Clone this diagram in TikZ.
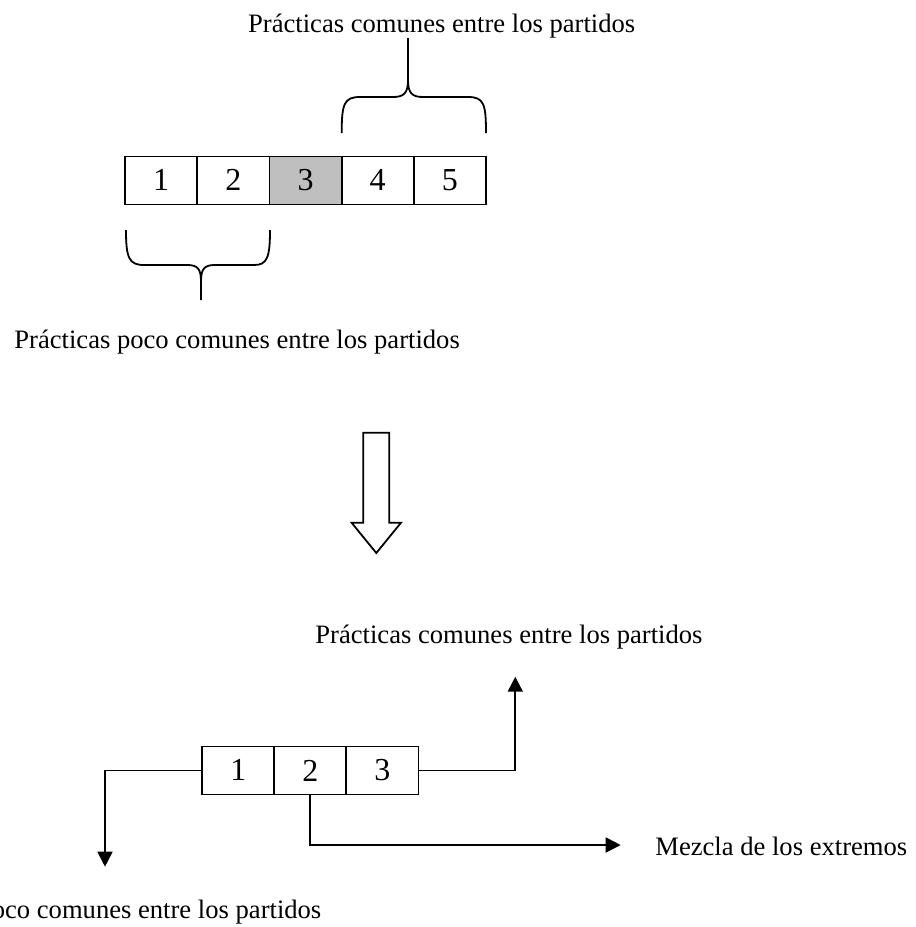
\documentclass[tikz,border=0pt]{standalone}
\usepackage{fontspec}
\setmainfont{Liberation Serif}
\usetikzlibrary{arrows.meta}

\begin{document}
\begin{tikzpicture}[x=0.5pt, y=-0.5pt]
            \tikzstyle{cell}=[draw,line width=0.9pt,minimum width=36.1pt,minimum height=24pt,inner sep=0pt,font=\fontsize{16}{19}\selectfont]
            \tikzstyle{caption}=[inner sep=0pt,font=\fontsize{13.3}{16}\selectfont]
            \tikzstyle{brace}=[line width=0.9pt]
            \tikzstyle{link}=[line width=0.9pt,-{Triangle[width=7.5pt,length=7.5pt]}]
            \useasboundingbox (0,0) rectangle (916,927);

            % five practices
            \node[cell] (T1) at (161.1,180.4)  {1};
            \node[cell] (T2) at (233.3,180.4)  {2};
            \node[cell,fill=black!25] (T3) at (305.5,180.4)  {3};
            \node[cell] (T4) at (377.7,180.4)  {4};
            \node[cell] (T5) at (449.9,180.4)  {5};

            \node[caption,anchor=base] (commonA) at (441.7,32) {Prácticas comunes entre los partidos};
            \node[caption,anchor=base west] (rareA) at (14,348) {Prácticas poco comunes entre los partidos};

            % braces
            \draw[brace] (341.7,133) .. controls (341.7,104) and (344,97) .. (360,97) -- (393,97)
                .. controls (404,97) and (408,93) .. (408,80) -- (408,38);
            \draw[brace] (408,80) .. controls (408,93) and (412,97) .. (423,97) -- (468,97)
                .. controls (484,97) and (486,104) .. (486,133);
            \draw[brace] (126,230) .. controls (126,258) and (129,265) .. (144,265) -- (187,265)
                .. controls (198,265) and (201,269) .. (201,282) -- (201,300);
            \draw[brace] (201,282) .. controls (201,269) and (204,265) .. (215,265) -- (254,265)
                .. controls (267,265) and (270,258) .. (270,230);

            % hollow arrow
            \draw[line width=0.9pt,fill=white] (363.3,432.7) -- (389.3,432.7) -- (389.3,522.7) -- (401,522.7)
                -- (376.3,553) -- (351.6,522.7) -- (363.3,522.7) -- cycle;

            % three groups
            \node[cell] (B1) at (238.3,770.4)  {1};
            \node[cell] (B2) at (310.3,770.4)  {2};
            \node[cell] (B3) at (382.3,770.4)  {3};

            \node[caption,anchor=base west] (commonB) at (315,643) {Prácticas comunes entre los partidos};
            \node[caption,anchor=base west] (mix) at (655,855) {Mezcla de los extremos};
            \node[caption,anchor=base east] (rareB) at (321.7,918) {Prácticas poco comunes entre los partidos};

            \coordinate (upEnd) at (515.3,676.7);
            \coordinate (downEnd) at (105,866.7);
            \coordinate (mixEnd) at (620.7,845);

            \draw[link] (B1.west) -| (downEnd);
            \draw[link] (B3.east) -| (upEnd);
            \draw[link] (B2.south) |- (mixEnd);

        \end{tikzpicture}
\end{document}
